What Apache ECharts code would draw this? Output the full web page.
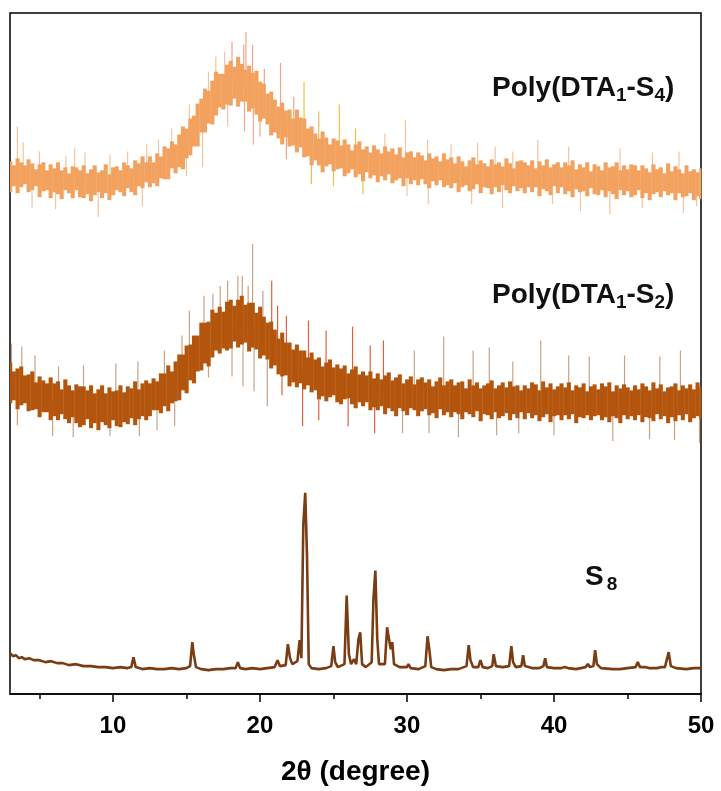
<!DOCTYPE html>
<html>
<head>
<meta charset="utf-8">
<script src="https://cdn.jsdelivr.net/npm/echarts@6.0.0/dist/echarts.min.js"></script>
<style>
  html, body { margin: 0; padding: 0; background: #fff; }
  #chart { width: 721px; height: 791px; }
</style>
</head>
<body>
<div id="chart"></div>
<script>
// XRD patterns: two amorphous polymer traces (noise band + spikes) and crystalline S8.
// Intensities are in arbitrary units, already offset for stacking.

const angleStart = 3;      // first 2θ sample of the noise bands
const angleStep = 0.25;    // 2θ spacing of the noise-band samples

const xMajorTicks = [10, 20, 30, 40, 50];
const xMinorTicks = [5, 15, 25, 35, 45];

// Poly(DTA1-S4): upper / lower edge of the dense noise band
const s4Hi = [
  535,531,538,534,531,537,533,527,532,534,
  526,532,528,534,526,529,523,530,529,526,
  531,523,527,531,524,526,532,522,529,530,
  526,534,531,528,536,533,540,534,540,534,
  543,540,550,548,555,552,562,570,568,578,
  581,593,598,608,606,616,625,623,623,632,
  636,630,640,633,627,631,624,626,615,613,
  603,605,597,590,594,586,587,578,587,579,
  578,568,570,563,558,565,559,552,558,556,
  551,557,552,546,552,555,547,550,544,551,
  547,543,550,545,548,542,549,539,544,545,
  539,544,541,536,543,538,540,535,543,537,
  539,533,540,535,530,536,539,532,536,533,
  530,537,532,534,530,538,533,528,535,536,
  534,531,536,528,535,531,537,529,532,534,
  529,534,531,536,527,532,529,534,525,532,
  530,526,534,529,530,534,526,531,527,532,
  531,526,531,528,524,532,527,529,523,533,
  525,530,527,523,531,525,527,524,528
];
const s4Lo = [
  504,510,503,509,512,504,506,510,499,505,
  506,498,504,502,497,506,503,498,506,499,
  498,502,495,501,504,498,503,496,501,506,
  504,500,508,504,501,510,508,514,509,513,
  510,518,517,517,528,523,529,527,538,541,
  550,550,564,564,573,572,581,589,587,592,
  591,598,590,595,595,585,588,582,575,578,
  572,561,564,558,552,559,550,551,544,549,
  539,540,531,536,531,524,530,532,525,527,
  528,520,523,527,519,522,515,524,518,521,
  514,520,516,522,513,516,518,510,518,512,
  516,511,517,512,508,515,511,516,509,511,
  508,513,504,509,511,505,507,512,503,509,
  508,502,509,504,511,506,503,510,505,508,
  503,509,504,509,500,507,505,501,510,503,
  509,502,505,499,507,504,505,500,508,502,
  501,506,499,505,502,497,506,501,505,499,
  501,506,498,503,496,502,504,499,505,501,
  503,496,503,499,500,503,496,500,497
];
// Poly(DTA1-S4): isolated counts that stick out of the band [2θ, intensity]
const s4Spikes = [
  [3.5,570],[3.9,554],[4.5,488],[5.0,545],[6.1,487],[6.8,540],[7.4,549],[8.1,544],
  [9.0,479],[9.8,542],[11.0,545],[12.0,490],[12.3,552],[13.1,557],[14.0,568],[15.0,520],
  [15.2,592],[16.1,529],[16.5,625],[17.0,640],[17.6,645],[17.8,570],[18.1,655],[18.9,652],
  [18.95,565],[19.05,665],[19.5,652],[19.55,552],[20.0,560],[20.3,628],[21.4,634],[21.8,537],
  [22.3,600],[23.0,615],[23.5,512],[24.0,585],[25.0,510],[25.4,592],[26.5,568],[27.0,502],
  [28.5,563],[29.9,577],[30.0,500],[31.4,557],[31.45,492],[33.0,552],[34.4,492],[34.8,554],
  [36.0,550],[36.5,488],[37.2,545],[38.9,557],[39.9,492],[41.0,550],[41.8,485],[43.8,482],
  [44.5,548],[46.0,488],[46.7,544],[48.5,545],[48.8,483],[49.7,490]
];

// Poly(DTA1-S2): upper / lower edge of the dense noise band
const s2Hi = [
  333,324,327,329,320,321,324,313,319,315,
  312,318,312,314,306,316,310,305,311,309,
  309,305,310,302,306,310,302,308,304,305,
  310,303,309,307,314,306,312,315,312,317,
  314,322,322,330,324,334,341,341,350,351,
  360,360,373,373,374,386,383,389,384,394,
  396,390,396,400,391,393,393,383,389,379,
  373,374,366,357,363,353,353,346,351,345,
  345,338,343,336,338,329,333,336,328,331,
  327,330,322,326,329,321,324,320,324,317,
  322,316,320,323,315,318,321,312,316,319,
  311,316,318,313,316,309,314,318,310,314,
  316,310,313,314,307,316,310,313,307,310,
  312,315,307,310,313,308,314,309,310,305,
  310,307,313,311,305,314,308,312,306,309,
  312,308,313,305,310,308,312,304,309,311,
  306,312,309,313,304,310,307,311,308,305,
  310,306,312,309,305,313,307,311,304,308,
  309,312,305,310,307,311,306,313,308
];
const s2Lo = [
  292,295,286,290,292,284,285,286,278,283,
  283,275,279,275,281,276,272,278,272,268,
  270,276,267,272,265,273,270,267,275,269,
  268,273,271,277,270,276,279,275,279,285,
  285,282,289,284,292,294,295,305,302,315,
  312,324,325,332,329,338,345,342,347,345,
  347,354,348,351,353,344,348,346,337,340,
  336,327,330,321,319,320,309,313,308,312,
  306,310,303,305,296,299,294,298,300,293,
  291,296,297,291,287,293,289,293,285,288,
  285,289,281,287,284,279,287,284,280,287,
  285,279,284,286,280,282,277,286,280,283,
  278,283,281,276,283,281,278,284,274,281,
  280,276,283,277,279,282,275,281,277,283,
  276,282,277,280,274,278,281,273,279,280,
  275,280,276,281,272,278,277,280,275,279,
  280,275,278,273,279,277,272,280,276,279,
  275,280,273,278,277,274,281,276,279,272,
  278,274,280,275,281,273,277,279,276
];
const s2Spikes = [
  [3.1,352],[3.5,270],[3.8,349],[4.7,340],[5.9,259],[6.3,329],[7.3,258],[8.0,330],
  [9.8,259],[10.2,332],[11.7,334],[11.8,259],[13.0,265],[13.5,345],[14.2,269],[14.7,360],
  [15.2,385],[16.2,400],[16.5,318],[16.8,402],[17.3,410],[17.8,415],[18.1,319],[18.5,420],
  [18.8,420],[18.85,309],[19.2,410],[19.5,452],[19.6,304],[20.2,405],[20.5,289],[20.8,415],
  [21.2,390],[21.5,300],[21.8,380],[22.9,269],[23.3,375],[24.0,275],[24.5,365],[26.0,269],
  [26.3,369],[27.5,350],[27.8,262],[28.4,355],[29.7,262],[30.5,345],[31.5,262],[32.5,359],
  [33.5,258],[34.5,345],[35.6,348],[36.1,260],[37.2,334],[37.6,262],[39.1,355],[40.0,260],
  [41.0,340],[42.4,339],[44.0,254],[44.8,340],[46.5,256],[47.2,339],[48.2,255],[48.6,345],
  [49.9,252]
];

// Crystalline S8 pattern [2θ, intensity]
const s8Pattern = [
  [3.0,41],[3.2,38],[3.4,39],[3.6,36],[3.8,37],[4.0,35],[4.3,36],[4.6,34],[5.0,34],[5.4,32],
  [5.8,33],[6.2,31],[6.6,31],[7.0,29],[7.5,30],[8.0,28],[8.5,28],[9.0,27],[9.5,27],[10.0,26],
  [10.5,27],[11.0,26],[11.25,27],[11.4,37],[11.55,27],[12.0,25],[12.5,26],[13.0,25],[13.5,25],
  [14.0,26],[14.5,25],[15.0,26],[15.25,28],[15.4,52],[15.5,40],[15.65,27],[16.0,25],[16.5,24],
  [17.0,25],[17.5,25],[18.0,26],[18.35,26],[18.5,32],[18.65,26],[19.0,25],[19.5,26],[20.0,25],
  [20.5,26],[21.0,27],[21.2,34],[21.35,28],[21.75,29],[21.9,50],[22.05,36],[22.2,30],[22.55,33],
  [22.7,54],[22.82,36],[22.95,170],[23.08,202],[23.2,140],[23.32,30],[23.5,26],[24.0,25],
  [24.5,26],[24.85,28],[25.0,48],[25.12,32],[25.3,27],[25.75,30],[25.9,99],[26.05,40],[26.2,30],
  [26.4,35],[26.55,30],[26.7,55],[26.82,62],[26.95,30],[27.2,27],[27.6,32],[27.72,95],[27.85,124],
  [27.98,55],[28.1,30],[28.5,30],[28.65,67],[28.78,55],[28.9,45],[29.0,52],[29.12,30],[29.5,27],
  [30.0,27],[30.1,30],[30.25,26],[30.8,25],[31.25,28],[31.4,58],[31.52,45],[31.65,27],[32.0,25],
  [32.5,24],[33.0,25],[33.5,25],[34.05,28],[34.2,49],[34.32,34],[34.5,27],[34.85,27],[35.0,34],
  [35.15,27],[35.5,26],[35.8,28],[35.9,40],[36.05,28],[36.5,27],[36.95,28],[37.1,48],[37.22,32],
  [37.4,27],[37.78,28],[37.9,39],[38.02,28],[38.5,26],[39.0,26],[39.28,28],[39.4,36],[39.52,27],
  [40.0,26],[40.5,26],[40.7,27],[40.8,29],[40.95,26],[41.5,25],[42.15,27],[42.3,30],[42.45,27],
  [42.68,28],[42.8,44],[42.92,30],[43.2,26],[44.0,25],[44.5,25],[45.0,26],[45.55,27],[45.7,32],
  [45.85,27],[46.2,27],[46.3,29],[46.45,26],[47.0,26],[47.3,27],[47.4,29],[47.55,27],[47.68,28],
  [47.8,42],[47.95,28],[48.3,26],[49.0,25],[49.5,26],[50.0,26]
];

const X_MIN = 3, X_MAX = 50;
const FONT = 'Liberation Sans, Arial, sans-serif';

function bandData(hi, lo) {
  return hi.map((h, i) => [angleStart + i * angleStep, lo[i], h]);
}
function spikeData(spikes, hi, lo) {
  return spikes.map(([x, tip]) => {
    const idx = Math.min(hi.length - 1, Math.max(0, Math.round((x - angleStart) / angleStep)));
    return [x, (hi[idx] + lo[idx]) / 2, tip];
  });
}

function bandRenderer(color) {
  return function (params, api) {
    const x = api.value(0);
    const x0 = Math.max(X_MIN, x - angleStep / 2);
    const x1 = Math.min(X_MAX, x + angleStep / 2);
    const p1 = api.coord([x0, api.value(2)]);
    const p2 = api.coord([x1, api.value(1)]);
    return {
      type: 'rect',
      shape: { x: p1[0], y: p1[1], width: p2[0] - p1[0] + 0.4, height: p2[1] - p1[1] },
      style: { fill: color }
    };
  };
}
function spikeRenderer(colorFor) {
  return function (params, api) {
    const x = api.value(0);
    const a = api.coord([x, api.value(1)]);
    const b = api.coord([x, api.value(2)]);
    return {
      type: 'line',
      shape: { x1: a[0], y1: a[1], x2: b[0], y2: b[1] },
      style: { stroke: colorFor(x), lineWidth: 1.2 }
    };
  };
}

const chart = echarts.init(document.getElementById('chart'), null, { renderer: 'canvas' });

const labelRich = {
  b: { fontSize: 28, fontWeight: 'bold', fontFamily: FONT, fill: '#111', lineHeight: 32 },
  s: { fontSize: 19, fontWeight: 'bold', fontFamily: FONT, fill: '#111', lineHeight: 19, padding: [15, 0, 0, 0] }
};
const subLabel = (sub1, sub2) => ({
  type: 'text',
  style: { text: `{b|Poly(DTA}{s|${sub1}}{b|-S}{s|${sub2}}{b|)}`, rich: labelRich }
});

chart.setOption({
  animation: false,
  backgroundColor: '#fff',
  grid: { left: 10, right: 20, top: 13, bottom: 94, show: true, borderColor: '#000', borderWidth: 1.5, backgroundColor: 'transparent' },
  xAxis: [
    {
      type: 'value', min: X_MIN, max: X_MAX, position: 'bottom',
      axisLine: { show: true, lineStyle: { color: '#000', width: 1.5 } },
      axisTick: { show: true, length: 8, customValues: xMajorTicks, lineStyle: { color: '#000', width: 1.5 } },
      axisLabel: { customValues: xMajorTicks, fontSize: 24, fontWeight: 'bold', color: '#000', fontFamily: FONT, margin: 20 },
      splitLine: { show: false },
      name: '2θ (degree)', nameLocation: 'middle', nameGap: 64,
      nameTextStyle: { fontSize: 28, fontWeight: 'bold', color: '#000', fontFamily: FONT }
    },
    {
      type: 'value', min: X_MIN, max: X_MAX, position: 'bottom',
      axisLine: { show: false },
      axisTick: { show: true, length: 5, customValues: xMinorTicks, lineStyle: { color: '#000', width: 1.5 } },
      axisLabel: { show: false },
      splitLine: { show: false }
    }
  ],
  yAxis: { type: 'value', min: 0, max: 684, show: false },
  series: [
    {
      name: 'Poly(DTA1-S4) spikes', type: 'custom', xAxisIndex: 0,
      renderItem: spikeRenderer(x => (x > 22.8 && x < 27.2) ? '#EDC04A' : (x > 18 && x < 22.5 ? '#F2A58C' : '#F4C4A0')),
      data: spikeData(s4Spikes, s4Hi, s4Lo), z: 2
    },
    {
      name: 'Poly(DTA1-S4)', type: 'custom', xAxisIndex: 0,
      renderItem: bandRenderer('#F2A25E'),
      data: bandData(s4Hi, s4Lo), z: 3
    },
    {
      name: 'Poly(DTA1-S2) spikes', type: 'custom', xAxisIndex: 0,
      renderItem: spikeRenderer(x => (x > 20.5 && x < 28.5) ? '#E0603E' : '#C9A286'),
      data: spikeData(s2Spikes, s2Hi, s2Lo), z: 2
    },
    {
      name: 'Poly(DTA1-S2)', type: 'custom', xAxisIndex: 0,
      renderItem: bandRenderer('#B4550E'),
      data: bandData(s2Hi, s2Lo), z: 3
    },
    {
      name: 'S8', type: 'line', xAxisIndex: 0, showSymbol: false, symbol: 'none',
      data: s8Pattern,
      lineStyle: { color: '#7A3C12', width: 2.6 }, z: 4
    }
  ],
  graphic: [
    Object.assign(subLabel('1', '4'), { left: 492, top: 71 }),
    Object.assign(subLabel('1', '2'), { left: 492, top: 278 }),
    {
      type: 'text', left: 585, top: 560,
      style: {
        text: '{b|S}{s|8}',
        rich: {
          b: labelRich.b,
          s: Object.assign({}, labelRich.s, { padding: [15, 0, 0, 3] })
        }
      }
    }
  ]
});
</script>
</body>
</html>
